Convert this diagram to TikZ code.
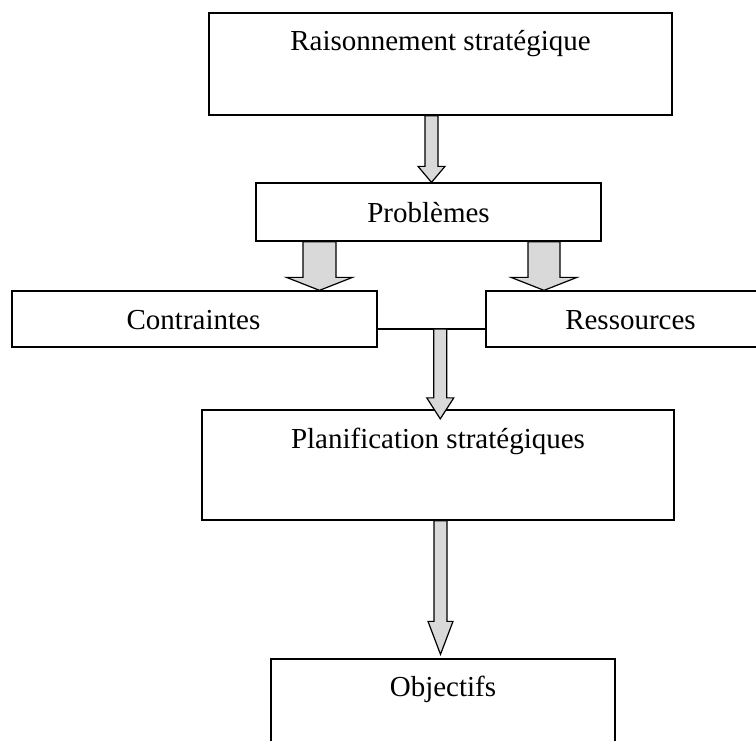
\documentclass[tikz,border=0pt]{standalone}
\usepackage{fontspec}
\setmainfont{Liberation Serif}
\usetikzlibrary{calc}
\definecolor{arrgray}{RGB}{217,217,217}
\tikzset{
  box/.style={draw=black, line width=1.3pt, rectangle, inner sep=0pt},
  lbl/.style={anchor=base, inner sep=0pt, font=\fontsize{29}{34}\selectfont},
  blockarr/.style={draw=black, fill=arrgray, line width=1.2pt, line join=miter},
  link/.style={draw=black, line width=1.3pt}
}
\newcommand\barrow[5]{%
  \path[blockarr] let \p1=(#1), \p2=(#2) in
    (\x1-#3pt,\y1) -- (\x1-#3pt,\y2+#5pt) -- (\x1-#4pt,\y2+#5pt) -- (\x1,\y2)
    -- (\x1+#4pt,\y2+#5pt) -- (\x1+#3pt,\y2+#5pt) -- (\x1+#3pt,\y1) -- cycle;}
\begin{document}
\begin{tikzpicture}[x=1pt,y=-1pt]
\useasboundingbox (0,0) rectangle (756,740);
\clip (0,0) rectangle (756,740);
% boxes
\node[box, minimum width=463pt, minimum height=102pt] (top) at (440.5,64) {};
\node[box, minimum width=345pt, minimum height=58pt] (prob) at (428.5,212) {};
\node[box, minimum width=365pt, minimum height=56pt] (con) at (194.5,319) {};
\node[box, minimum width=289pt, minimum height=56pt] (res) at (630.5,319) {};
\node[box, minimum width=472pt, minimum height=110pt] (plan) at (438,465) {};
\node[box, minimum width=344pt, minimum height=122pt] (obj) at (443,720) {};
% texts
\node[lbl] (ttop) at (440.5,50) {Raisonnement stratégique};
\node[lbl] (tprob) at (428.5,222) {Problèmes};
\node[lbl] (tcon) at (193.5,329) {Contraintes};
\node[lbl] (tres) at (630.5,329) {Ressources};
\node[lbl] (tplan) at (438,448) {Planification stratégiques};
\node[lbl] (tobj) at (443,696) {Objectifs};
% connecting line
\coordinate (cl) at ($(con.east)+(0,10)$);
\coordinate (cr) at ($(res.west)+(0,10)$);
\draw[link] (cl) -- (cr);
\coordinate (j) at ($(cl)!0.5815!(cr)$);
% block arrows
\barrow{$(top.south)+(-9,0)$}{$(prob.north)+(3,0)$}{6.5}{13.5}{16}
\barrow{$(prob.south)+(-109,0)$}{$(con.north)+(125,0)$}{16.5}{33}{13}
\barrow{$(prob.south)+(115.5,0)$}{$(res.north)+(-86.5,0)$}{16}{33}{13}
\barrow{j}{$(plan.north)+(2.5,9.5)$}{6.5}{13.5}{21}
\barrow{$(plan.south)+(2.5,0)$}{$(obj.north)+(-2.5,-4)$}{6.5}{12.5}{33}
\end{tikzpicture}
\end{document}
